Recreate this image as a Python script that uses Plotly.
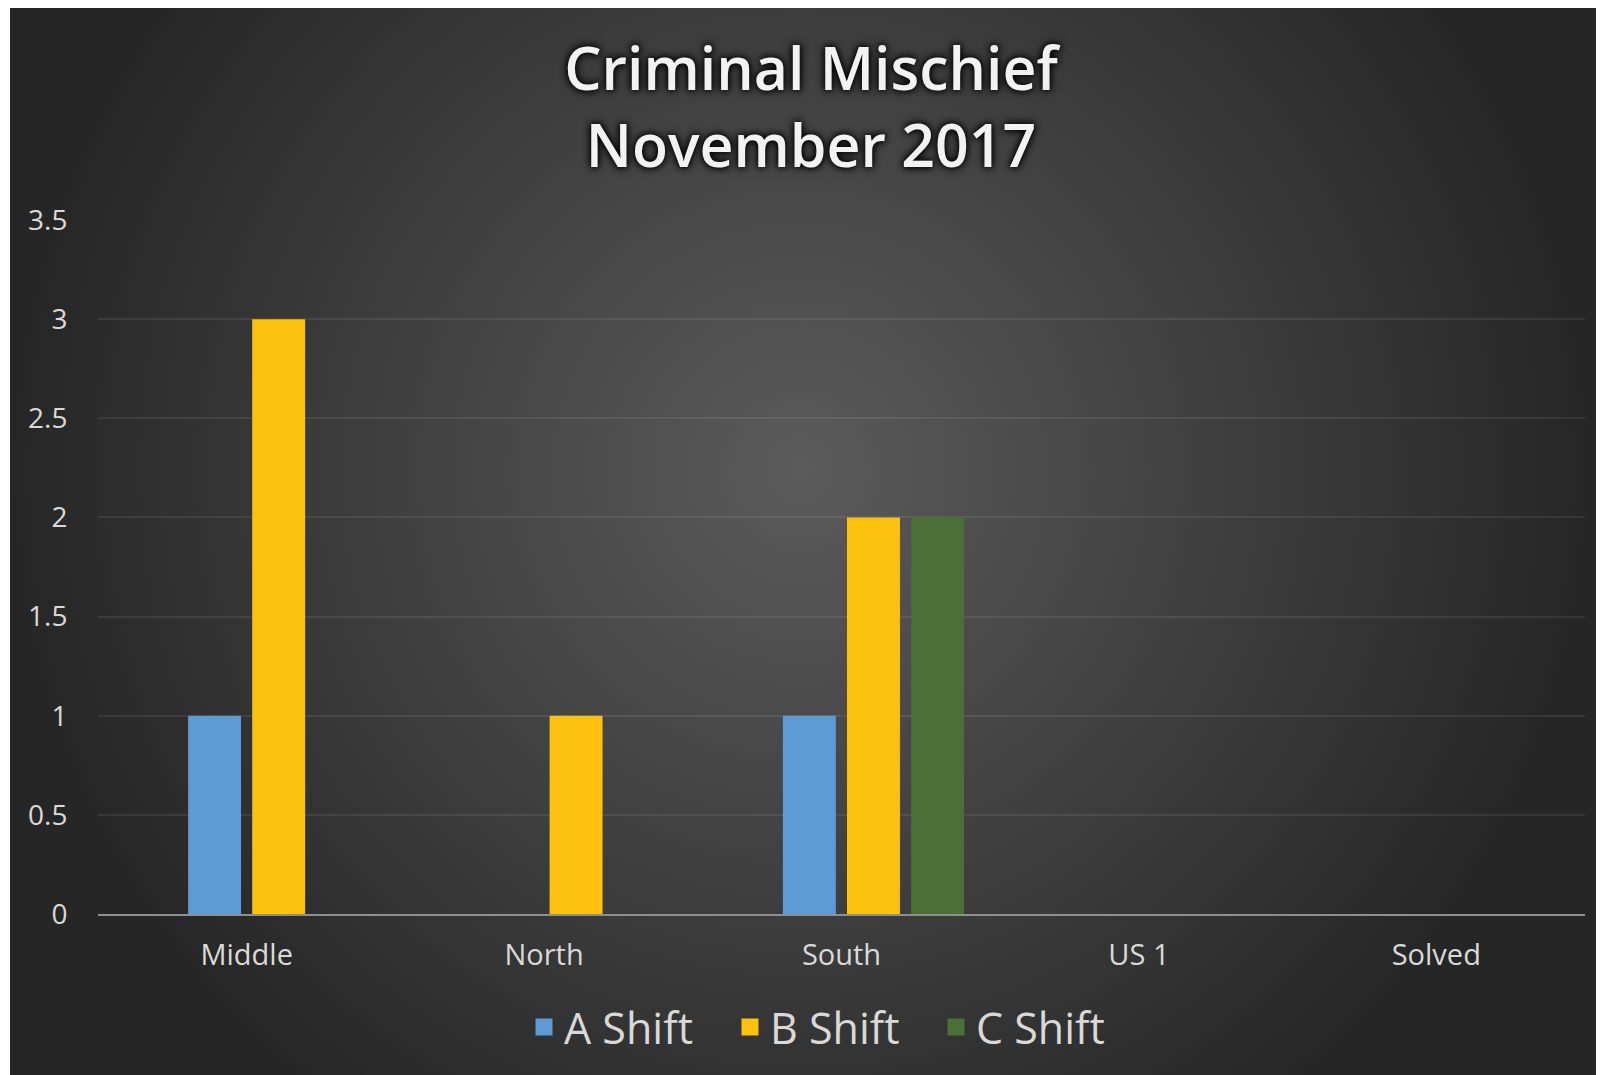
import base64
import plotly.graph_objects as go

# chart values
categories = ["Middle", "North", "South", "US 1", "Solved"]
a_shift = [1, 0, 1, 0, 0]
b_shift = [3, 1, 2, 0, 0]
c_shift = [0, 0, 2, 0, 0]
series_names = ["A Shift", "B Shift", "C Shift"]
y_ticks = [0, 0.5, 1, 1.5, 2, 2.5, 3, 3.5]

# page body has an 8px margin, so the figure is a bit smaller than the window
W, H = 1596, 1067
ML, MR, MT, MB = 90, 19, 212, 161
plot_w = W - ML - MR
plot_h = H - MT - MB

# dark chart area with a soft radial light in the middle
bg_x0, bg_y0 = 2, 0
bg_w, bg_h = W - bg_x0, H - bg_y0
svg = f"""<svg xmlns="http://www.w3.org/2000/svg" width="{bg_w}" height="{bg_h}">
<defs><radialGradient id="g" gradientUnits="userSpaceOnUse" cx="790" cy="463" r="790">
<stop offset="0" stop-color="#5b5b5b"/><stop offset="1" stop-color="#262626"/>
</radialGradient></defs>
<rect width="{bg_w}" height="{bg_h}" fill="url(#g)"/></svg>"""
bg_src = "data:image/svg+xml;base64," + base64.b64encode(svg.encode()).decode()

colors = ["#5e9ad5", "#fcc20e", "#4b6f37"]
bar_w = 0.178
offsets = [-0.197, 0.0185, 0.234]

fig = go.Figure()
for name, vals, col, off in zip(series_names, [a_shift, b_shift, c_shift], colors, offsets):
    fig.add_trace(go.Bar(
        x=categories, y=vals, name=name, legendgroup=name, showlegend=False,
        marker=dict(color=col, line=dict(width=0)),
        width=bar_w, offset=off,
    ))

# legend entries only: an empty bar with a thick outline gives a bigger square
for name, col, off in zip(series_names, colors, offsets):
    fig.add_trace(go.Bar(
        x=categories[:1], y=[None], name=name, legendgroup=name,
        marker=dict(color=col, line=dict(width=5, color=col)),
        width=bar_w, offset=off, hoverinfo="skip",
    ))

font_family = "Open Sans, Noto Sans, sans-serif"

fig.update_layout(
    width=W, height=H,
    margin=dict(l=ML, r=MR, t=MT, b=MB),
    paper_bgcolor="white",
    plot_bgcolor="rgba(0,0,0,0)",
    font=dict(family=font_family, color="#d9d9d9"),
    title=dict(
        text="Criminal Mischief<br>November 2017",
        x=(803 - ML) / plot_w, xref="paper", xanchor="center",
        y=1 - 82 / H, yref="container", yanchor="top",
        font=dict(size=59, color="#f2f2f2", weight=600,
                  shadow="0px 0px 6px #000, 0px 0px 10px #000"),
    ),
    showlegend=True,
    legend=dict(
        orientation="h",
        x=(516 - ML) / plot_w, xanchor="left",
        y=(plot_h + MT - 1019) / plot_h, yanchor="middle",
        entrywidth=161, entrywidthmode="pixels",
        font=dict(size=43, color="#d9d9d9"),
        bgcolor="rgba(0,0,0,0)",
    ),
    images=[dict(
        source=bg_src, xref="paper", yref="paper",
        x=(bg_x0 - ML) / plot_w, y=(H - MB - bg_y0) / plot_h,
        sizex=bg_w / plot_w, sizey=bg_h / plot_h,
        xanchor="left", yanchor="top", sizing="stretch", layer="below",
    )],
)

fig.update_xaxes(
    categoryorder="array", categoryarray=categories,
    showline=True, linecolor="#8f8f8f", linewidth=2,
    showgrid=False, ticks="outside", ticklen=14, tickcolor="rgba(0,0,0,0)",
    tickfont=dict(size=29, color="#d9d9d9"),
)
fig.update_yaxes(
    range=[0, 3.5], tickvals=y_ticks,
    showgrid=True, gridcolor="rgba(255,255,255,0.08)", gridwidth=2,
    zeroline=False, showline=False,
    ticks="outside", ticklen=24, tickcolor="rgba(0,0,0,0)",
    tickfont=dict(size=28, color="#d9d9d9"),
)

fig.write_html("out.html")
